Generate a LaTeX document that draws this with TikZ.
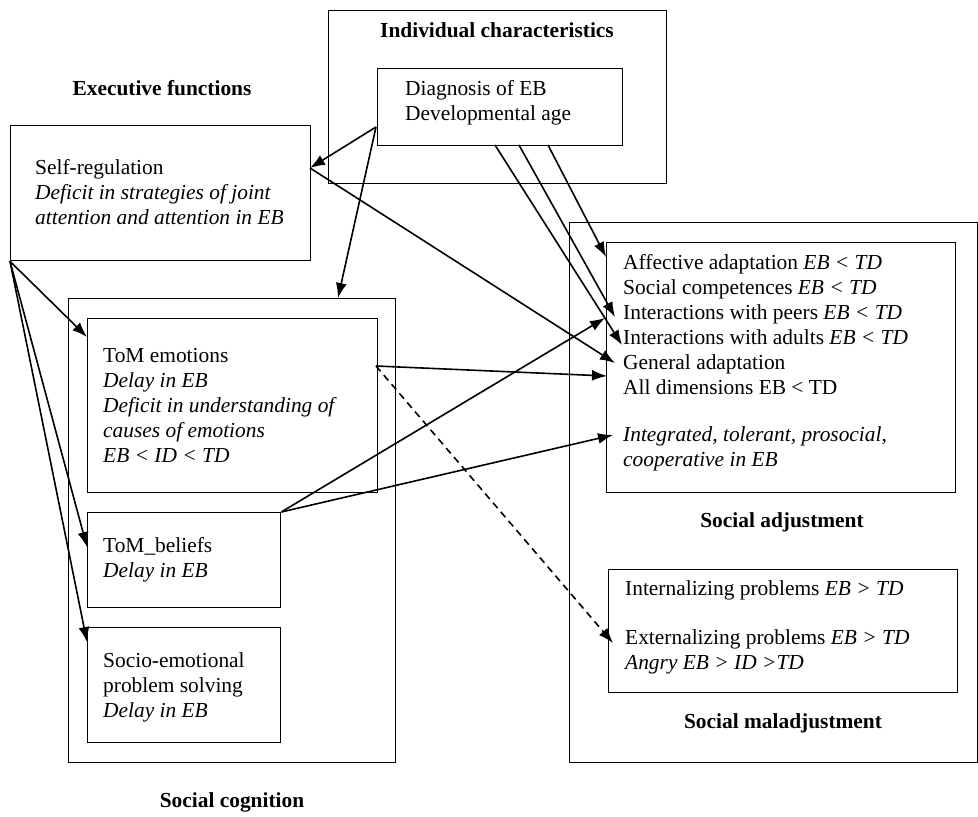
\documentclass[tikz,border=0pt]{standalone}
\usepackage{fontspec}
\setmainfont{Liberation Serif}
\usetikzlibrary{arrows.meta}
\begin{document}
\begin{tikzpicture}[x=1pt,y=-1pt,
  box/.style={draw,line width=1.3pt,inner sep=0pt,anchor=north west},
  txt/.style={inner sep=0pt,anchor=west,align=left,font=\fontsize{21.4}{25}\selectfont},
  ttl/.style={inner sep=0pt,font=\fontsize{21.4}{25}\selectfont\bfseries},
  arr/.style={line width=1.6pt,-{Latex[length=15pt,width=11pt]}}]
\useasboundingbox (0,0) rectangle (978,817);
% boxes
\node[box,minimum width=338pt,minimum height=173pt] (icout) at (328,10) {};
\node[box,minimum width=245pt,minimum height=77pt] (icin) at (377,68) {};
\node[box,minimum width=300pt,minimum height=135pt] (selfreg) at (10,125) {};
\node[box,minimum width=327pt,minimum height=464pt] (scog) at (68,298) {};
\node[box,minimum width=290pt,minimum height=174pt] (tomemo) at (87,318) {};
\node[box,minimum width=193pt,minimum height=95pt] (tombel) at (87,512) {};
\node[box,minimum width=193pt,minimum height=115pt] (socemo) at (87,627) {};
\node[box,minimum width=408pt,minimum height=540pt] (sout) at (569,222) {};
\node[box,minimum width=349pt,minimum height=250pt] (sadj) at (606,242) {};
\node[box,minimum width=349pt,minimum height=123pt] (smal) at (608,569) {};
% titles
\node[ttl] (t1) at (497,30) {Individual characteristics};
\node[ttl] (t2) at (162,88) {Executive functions};
\node[ttl] (t3) at (232,802) {Social cognition};
\node[ttl] (t4) at (782,522) {Social adjustment};
\node[ttl] (t5) at (783,723) {Social maladjustment};
% texts
\node[txt] (x1) at (405,103) {Diagnosis of EB\\Developmental age};
\node[txt] (x2) at (35,192) {Self-regulation\\\textit{Deficit in strategies of joint}\\\textit{attention and attention in EB}};
\node[txt] (x3) at (103,405) {ToM emotions\\\textit{Delay in EB}\\\textit{Deficit in understanding of}\\\textit{causes of emotions}\\\textit{EB < ID < TD}};
\node[txt] (x4) at (103,560) {ToM\_beliefs\\\textit{Delay in EB}};
\node[txt] (x5) at (103,687) {Socio-emotional\\problem solving\\\textit{Delay in EB}};
\node[txt] (x6) at (623,325) {Affective adaptation \textit{EB < TD}\\Social competences \textit{EB < TD}\\Interactions with peers \textit{EB < TD}\\Interactions with adults \textit{EB < TD}\\General adaptation\\All dimensions EB < TD};
\node[txt] (x7) at (623,449) {\textit{Integrated, tolerant, prosocial,}\\\textit{cooperative in EB}};
\node[txt] (x8) at (625,590) {Internalizing problems \textit{EB > TD}};
\node[txt] (x9) at (625,652) {Externalizing problems \textit{EB > TD}\\\textit{Angry EB > ID >TD}};
% connector points
\coordinate (icL) at (376,127);
\coordinate (srR) at (310,168);
\coordinate (scT) at (338,298);
\coordinate (b1) at (495,145);
\coordinate (b2) at (519,145);
\coordinate (b3) at (548,145);
\coordinate (eR) at (376,366);
\coordinate (pAff) at (606,257);
\coordinate (pPeer) at (615,317);
\coordinate (pAdu) at (622,345);
\coordinate (pGen) at (615,363);
\coordinate (pAll) at (607,376);
\coordinate (pPeer2) at (605,318);
\coordinate (pInt) at (613,435);
\coordinate (pExt) at (613,643);
\coordinate (pE) at (87,337);
\coordinate (pB) at (87,547);
\coordinate (pS) at (87,642);
% connectors
\draw[arr] (icL) -- (srR);
\draw[arr] (icL) -- (scT);
\draw[arr] (b3) -- (pAff);
\draw[arr] (b2) -- (pPeer);
\draw[arr] (b1) -- (pAdu);
\draw[arr] (srR) -- (pGen);
\draw[arr] (eR) -- (pAll);
\draw[arr,dashed,dash pattern=on 7pt off 5pt] (eR) -- (pExt);
\draw[arr] (tombel.north east) -- (pPeer2);
\draw[arr] (tombel.north east) -- (pInt);
\draw[arr] (selfreg.south west) -- (pE);
\draw[arr] (selfreg.south west) -- (pB);
\draw[arr] (selfreg.south west) -- (pS);
\end{tikzpicture}
\end{document}
